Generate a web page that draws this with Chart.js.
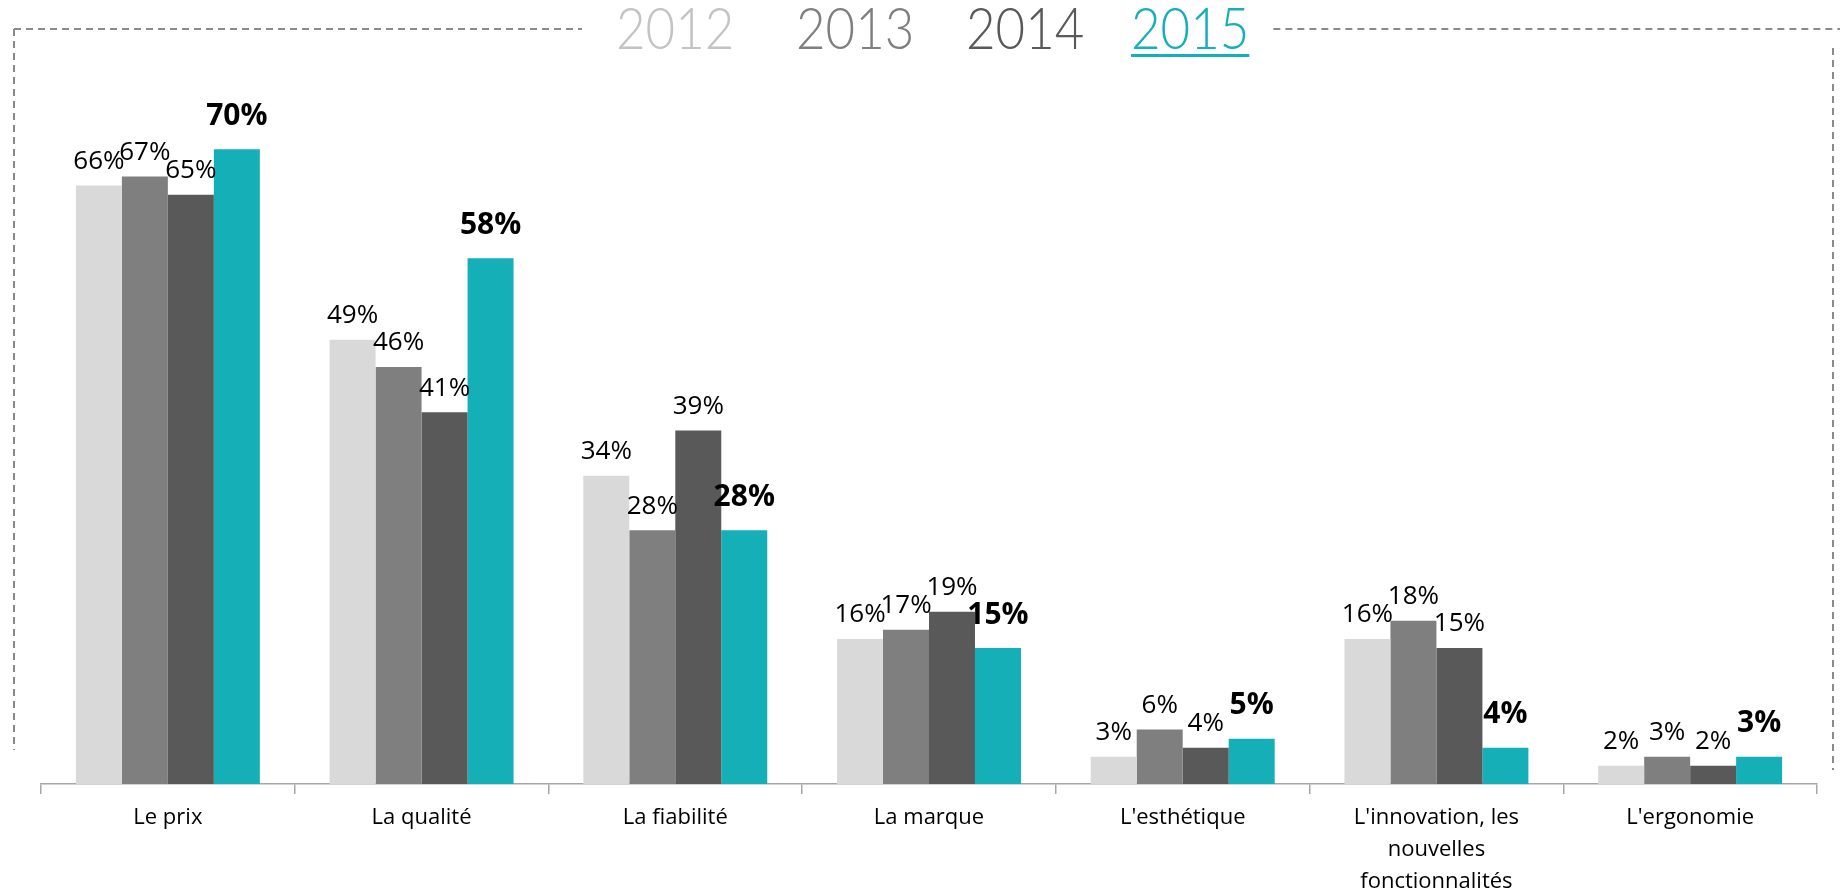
<!DOCTYPE html>
<html>
<head>
<meta charset="utf-8">
<script src="https://cdn.jsdelivr.net/npm/chart.js@4.4.1/dist/chart.umd.min.js"></script>
<style>
  html, body { margin: 0; padding: 0; background: #fff; }
  #wrap { width: 1846px; height: 894px; }
</style>
</head>
<body>
<div id="wrap"><canvas id="chart" width="1846" height="894"></canvas></div>
<script>
const categories = [
  'Le prix', 'La qualité', 'La fiabilité', 'La marque', "L'esthétique",
  ["L'innovation, les", 'nouvelles', 'fonctionnalités'], "L'ergonomie"
];
const years = ['2012', '2013', '2014', '2015'];
const values2012 = [66, 49, 34, 16, 3, 16, 2];
const values2013 = [67, 46, 28, 17, 6, 18, 3];
const values2014 = [65, 41, 39, 19, 4, 15, 2];
const values2015 = [70, 58, 28, 15, 5, 4, 3];
const barColors = ['#d9d9d9', '#7f7f7f', '#595959', '#14afb7'];
const yearColors = ['#c3c3c3', '#7f7f7f', '#595959', '#14afb7'];

// header years sit at these x positions
const headerX = [616, 796, 966, 1131];

// dashed frame + year header
const framePlugin = {
  id: 'frame',
  beforeDraw(chart) {
    const ctx = chart.ctx;
    ctx.save();
    ctx.font = '300 51px Lato';
    ctx.textBaseline = 'middle';
    ctx.textAlign = 'left';
    let endX = 0;
    years.forEach((y, i) => {
      const w = ctx.measureText(y).width;
      ctx.fillStyle = yearColors[i];
      ctx.save();
      ctx.translate(headerX[i], 31);
      ctx.scale(1, 1.12);
      ctx.fillText(y, 0, 0);
      ctx.restore();
      if (i === years.length - 1) {
        ctx.fillRect(headerX[i], 54, w, 3);
        endX = headerX[i] + w;
      }
    });
    const startX = headerX[0];

    ctx.strokeStyle = '#8a8a8a';
    ctx.lineWidth = 2;
    ctx.setLineDash([7, 5]);
    ctx.beginPath();
    ctx.moveTo(14, 29);
    ctx.lineTo(startX - 34, 29);
    ctx.moveTo(14, 29);
    ctx.lineTo(14, 750);
    ctx.moveTo(endX + 24, 29);
    ctx.lineTo(1840, 29);
    ctx.moveTo(1833, 48);
    ctx.lineTo(1833, 770);
    ctx.stroke();
    ctx.restore();
  }
};

// value labels over bars
const valuePlugin = {
  id: 'values',
  afterDatasetsDraw(chart) {
    const ctx = chart.ctx;
    ctx.save();
    ctx.fillStyle = '#000';
    ctx.textAlign = 'center';
    ctx.textBaseline = 'middle';
    chart.data.datasets.forEach((ds, di) => {
      const meta = chart.getDatasetMeta(di);
      const bold = di === 3;
      ctx.font = bold ? 'bold 30px "Open Sans"' : '26px "Open Sans"';
      meta.data.forEach((bar, i) => {
        ctx.fillText(ds.data[i] + '%', bar.x, bar.y - (bold ? 33 : 24));
      });
    });
    ctx.restore();
  }
};

const seriesValues = [values2012, values2013, values2014, values2015];

new Chart(document.getElementById('chart'), {
  type: 'bar',
  data: {
    labels: categories,
    datasets: years.map((y, i) => ({
      label: y,
      data: seriesValues[i],
      backgroundColor: barColors[i],
      categoryPercentage: 0.725,
      barPercentage: 1.0
    }))
  },
  options: {
    responsive: false,
    animation: false,
    layout: { padding: { left: 41, right: 29, top: 104, bottom: 0 } },
    plugins: {
      legend: { display: false },
      tooltip: { enabled: false }
    },
    scales: {
      x: {
        grid: {
          display: true,
          drawOnChartArea: false,
          drawTicks: true,
          tickLength: 10,
          color: '#a6a6a6',
          lineWidth: 1.5
        },
        border: { color: '#a6a6a6', width: 1.5 },
        ticks: {
          color: '#000',
          font: { family: 'Open Sans', size: 22, lineHeight: 1.45 },
          padding: 8,
          maxRotation: 0,
          autoSkip: false
        },
        afterFit(scale) { scale.height = 110; }
      },
      y: { display: false, min: 0, max: 75 }
    }
  },
  plugins: [framePlugin, valuePlugin]
});
</script>
</body>
</html>
